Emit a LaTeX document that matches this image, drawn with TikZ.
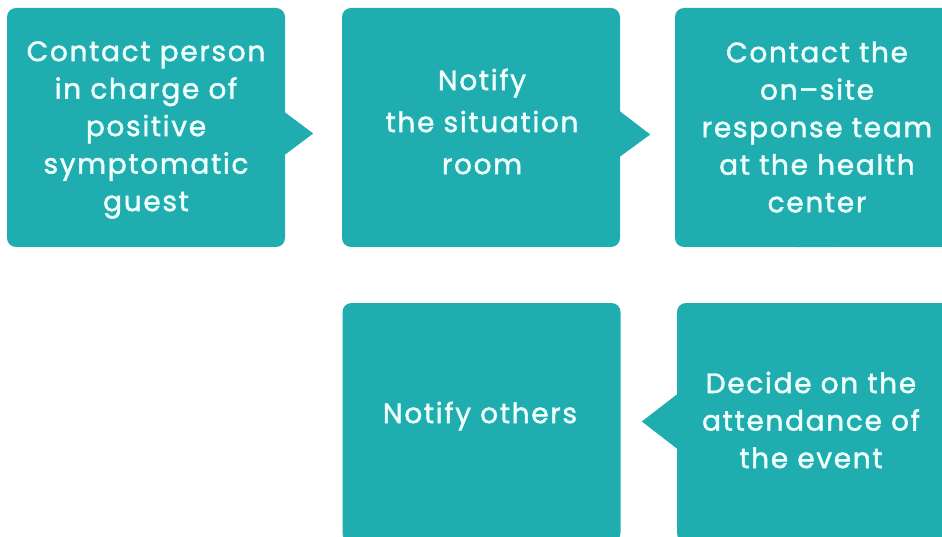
\documentclass[tikz,border=0pt]{standalone}
\usepackage{fontspec}
\setmainfont{Poppins}[FakeBold=1.6,LetterSpace=6]
\definecolor{teal1}{HTML}{20ADAF}
\definecolor{txt}{HTML}{EEFFFD}
\begin{document}
\begin{tikzpicture}[x=1pt,y=-1pt,
  card/.style={fill=teal1, rounded corners=9pt, minimum width=278pt, minimum height=239pt, inner sep=0pt},
  lbl/.style={text=txt, align=center, font=\fontsize{28}{37.5}\selectfont, inner sep=0pt},
  tip/.style={fill=teal1}]
\useasboundingbox (0,0) rectangle (942,537);
\node[card] (b1) at (146,127.5) {};
\node[card] (b2) at (481,127.5) {};
\node[card] (b3) at (814,127.5) {};
\node[card] (b4) at (481.5,422.5) {};
\node[card] (b5) at (816,422.5) {};
\node[lbl] (t1) at (146,130) {Contact person\\in charge of\\positive\\symptomatic\\guest};
\node[lbl, font=\fontsize{28}{42}\selectfont] (t2) at (482,121.5) {Notify\\the situation\\room};
\node[lbl] (t3) at (817,127) {Contact the\\on--site\\response team\\at the health\\center};
\node[lbl] (t4) at (480,416) {Notify others};
\node[lbl] (t5) at (811,420) {Decide on the\\attendance of\\the event};
\fill[tip] ([yshift=-27pt]b1.east) -- ([xshift=28pt,yshift=-6pt]b1.east) -- ([yshift=15pt]b1.east) -- cycle;
\fill[tip] ([yshift=-29pt]b2.east) -- ([xshift=30pt,yshift=-7pt]b2.east) -- ([yshift=16pt]b2.east) -- cycle;
\fill[tip] ([xshift=-19pt]b3.south) -- ([xshift=0pt,yshift=30pt]b3.south) -- ([xshift=19pt]b3.south) -- cycle;
\fill[tip] ([yshift=-26pt]b5.west) -- ([xshift=-35pt,yshift=1pt]b5.west) -- ([yshift=28pt]b5.west) -- cycle;
\end{tikzpicture}
\end{document}
